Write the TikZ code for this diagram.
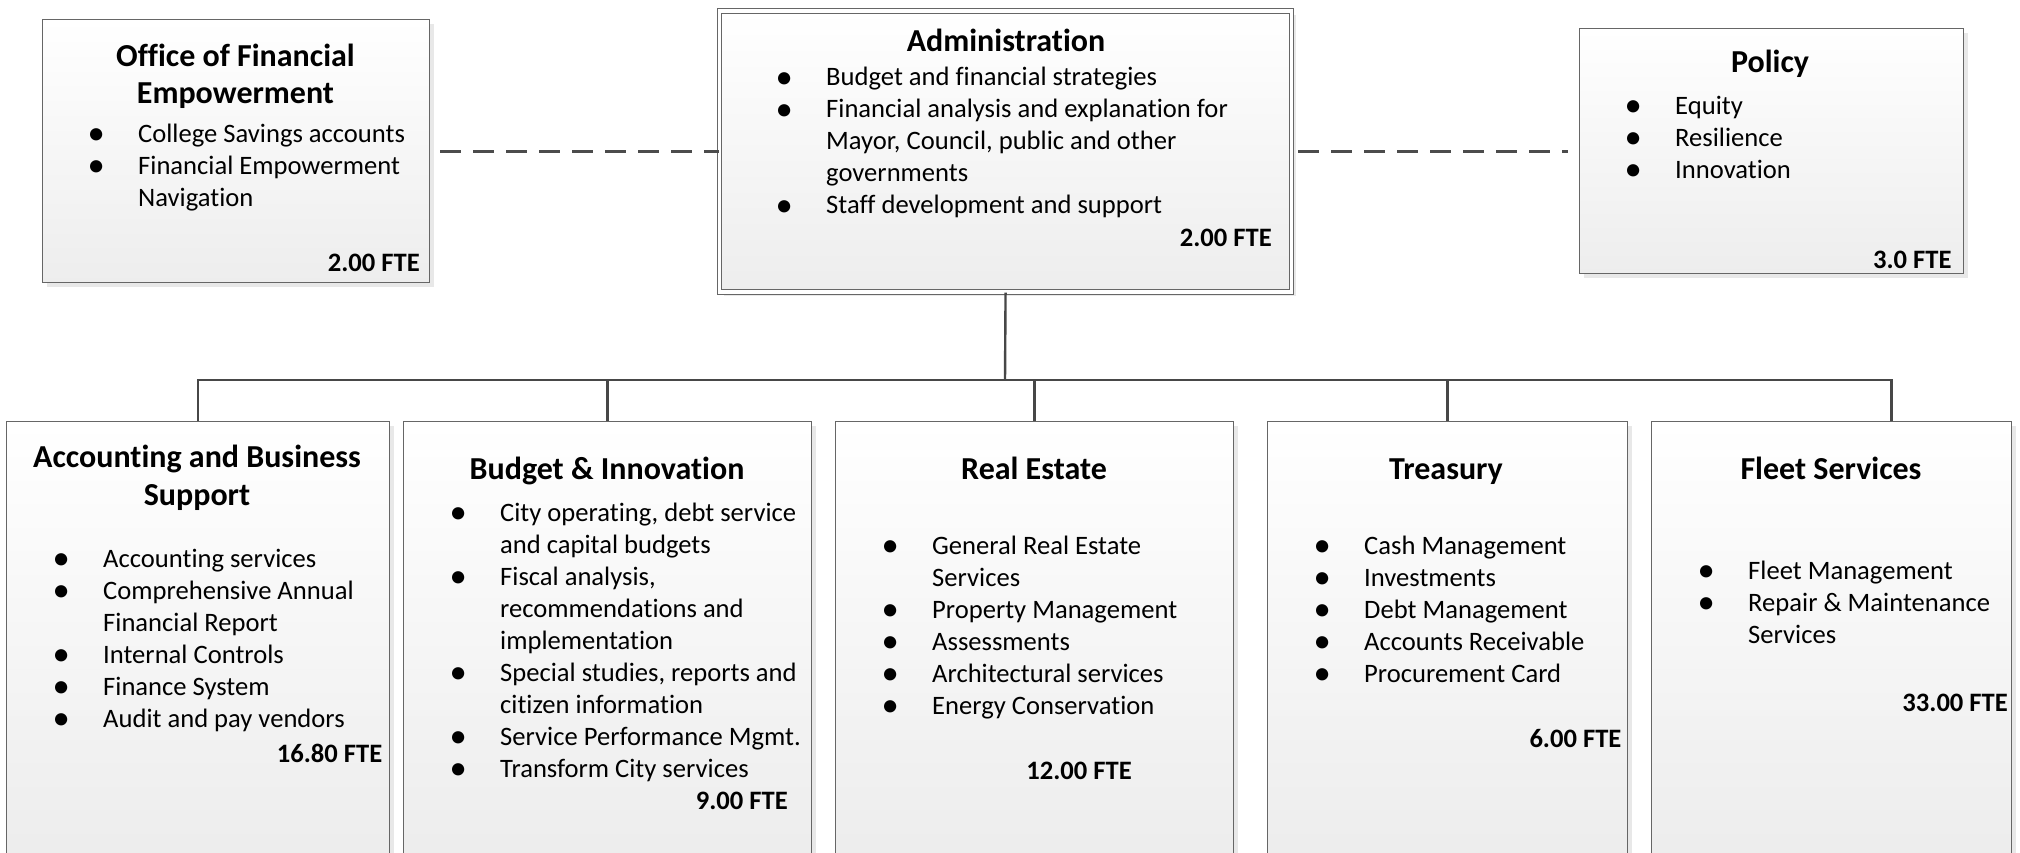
\documentclass[tikz,border=0pt]{standalone}
\usepackage{fontspec}
\setmainfont{Carlito}[Ligatures=NoCommon]
\usepackage{tikz}
\usetikzlibrary{positioning,calc,shadows}

\newcommand{\bodyfont}{\fontsize{26.6}{32}\selectfont}
\newcommand{\headfont}{\fontsize{32}{37.5}\selectfont\bfseries}
\newcommand{\bul}{\makebox[0pt]{\raisebox{-2.4pt}{\scalebox{1.3}{\textbullet}}}\hspace{42pt}}
\newcommand{\cont}{\hspace*{42pt}}

\tikzset{
  unit/.style={draw=black!60, line width=1.2pt, top color=white, bottom color=black!7,
    inner sep=0pt, anchor=north west,
    drop shadow={shadow xshift=4pt, shadow yshift=-4pt, fill=black!9, opacity=1}},
  lowunit/.style={unit, bottom color=black!8, minimum height=480pt},
  head/.style={anchor=base, inner sep=0pt},
  items/.style={anchor=base west, inner sep=0pt},
  fte/.style={anchor=base east, inner sep=0pt, font=\bodyfont\bfseries},
  link/.style={draw=black!72, line width=2.4pt},
  dashlink/.style={draw=black!70, line width=3pt, dash pattern=on 21pt off 12pt}
}

\begin{document}
\begin{tikzpicture}[x=1pt, y=-1pt]
    \useasboundingbox (0,0) rectangle (2020,853);
    \clip (0,0) rectangle (2020,853);

    % Top row
    \node[unit, minimum width=387pt, minimum height=263pt] (ofe) at (42,19) {};
    \node[unit, minimum width=572pt, minimum height=281pt, double=white,
          double distance=3.5pt, line width=1.1pt] (admin) at (719,10.5) {};
    \node[unit, minimum width=384pt, minimum height=245pt] (policy) at (1579,28) {};

    % Office of Financial Empowerment
    \node[head] (ofe-title) at (235.5,66.5) {\headfont\begin{tabular}[t]{@{}c@{}}Office of Financial\\Empowerment\end{tabular}};
    \node[items] (ofe-items) at (96,142.5) {\bodyfont\begin{tabular}[t]{@{}l@{}}
        \bul College Savings accounts\\
        \bul Financial Empowerment\\
        \cont Navigation
      \end{tabular}};
    \node[fte] (ofe-fte) at (420,271) {2.00 FTE};

    % Administration
    \node[head] (admin-title) at (1006,51.5) {\headfont Administration};
    \node[items] (admin-items) at (784,86) {\bodyfont\begin{tabular}[t]{@{}l@{}}
        \bul Budget and financial strategies\\
        \bul Financial analysis and explanation for\\
        \cont Mayor, Council, public and other\\
        \cont governments\\
        \bul Staff development and support
      \end{tabular}};
    \node[fte] (admin-fte) at (1272,246.5) {2.00 FTE};

    % Policy
    \node[head] (policy-title) at (1770,72.5) {\headfont Policy};
    \node[items] (policy-items) at (1633,114.5) {\bodyfont\begin{tabular}[t]{@{}l@{}}
        \bul Equity\\
        \bul Resilience\\
        \bul Innovation
      \end{tabular}};
    \node[fte] (policy-fte) at (1951.7,268.5) {3.0 FTE};

    % Bottom row
    \node[lowunit, minimum width=383pt] (abs) at (6,421) {};
    \node[lowunit, minimum width=408pt] (budget) at (403,421) {};
    \node[lowunit, minimum width=398pt] (estate) at (835,421) {};
    \node[lowunit, minimum width=360pt] (treasury) at (1267,421) {};
    \node[lowunit, minimum width=360pt] (fleet) at (1651,421) {};

    % Accounting and Business Support
    \node[head] (abs-title) at (197,467.5) {\headfont\begin{tabular}[t]{@{}c@{}}Accounting and Business\\Support\end{tabular}};
    \node[items] (abs-items) at (61,567.5) {\bodyfont\begin{tabular}[t]{@{}l@{}}
        \bul Accounting services\\
        \bul Comprehensive Annual\\
        \cont Financial Report\\
        \bul Internal Controls\\
        \bul Finance System\\
        \bul Audit and pay vendors
      \end{tabular}};
    \node[fte] (abs-fte) at (382.5,762.5) {16.80 FTE};

    % Budget & Innovation
    \node[head] (budget-title) at (607,479) {\headfont Budget \& Innovation};
    \node[items] (budget-items) at (458,521.5) {\bodyfont\begin{tabular}[t]{@{}l@{}}
        \bul City operating, debt service\\
        \cont and capital budgets\\
        \bul Fiscal analysis,\\
        \cont recommendations and\\
        \cont implementation\\
        \bul Special studies, reports and\\
        \cont citizen information\\
        \bul Service Performance Mgmt.\\
        \bul Transform City services
      \end{tabular}};
    \node[fte] (budget-fte) at (788,809) {9.00 FTE};

    % Real Estate
    \node[head] (estate-title) at (1034,479) {\headfont Real Estate};
    \node[items] (estate-items) at (890,554) {\bodyfont\begin{tabular}[t]{@{}l@{}}
        \bul General Real Estate\\
        \cont Services\\
        \bul Property Management\\
        \bul Assessments\\
        \bul Architectural services\\
        \bul Energy Conservation
      \end{tabular}};
    \node[fte] (estate-fte) at (1132,779) {12.00 FTE};

    % Treasury
    \node[head] (treasury-title) at (1446,479) {\headfont Treasury};
    \node[items] (treasury-items) at (1322,554) {\bodyfont\begin{tabular}[t]{@{}l@{}}
        \bul Cash Management\\
        \bul Investments\\
        \bul Debt Management\\
        \bul Accounts Receivable\\
        \bul Procurement Card
      \end{tabular}};
    \node[fte] (treasury-fte) at (1621.6,747.5) {6.00 FTE};

    % Fleet Services
    \node[head] (fleet-title) at (1831,479) {\headfont Fleet Services};
    \node[items] (fleet-items) at (1706,579) {\bodyfont\begin{tabular}[t]{@{}l@{}}
        \bul Fleet Management\\
        \bul Repair \& Maintenance\\
        \cont Services
      \end{tabular}};
    \node[fte] (fleet-fte) at (2008,711.5) {33.00 FTE};

    % Connectors
    \draw[dashlink, shorten <=10pt] (ofe.east) -- (ofe.east -| admin.west);
    \draw[dashlink, shorten <=6pt, shorten >=11pt] (policy.west -| admin.east) -- (policy.west);
    \coordinate (bus) at (1005,380);
    \draw[link] (admin.south) -- (bus);
    \foreach \u in {abs,budget,estate,treasury}
      \draw[link] (bus) -| (\u.north);
    \draw[link] (bus) -| ([xshift=60pt]fleet.north);
\end{tikzpicture}
\end{document}
